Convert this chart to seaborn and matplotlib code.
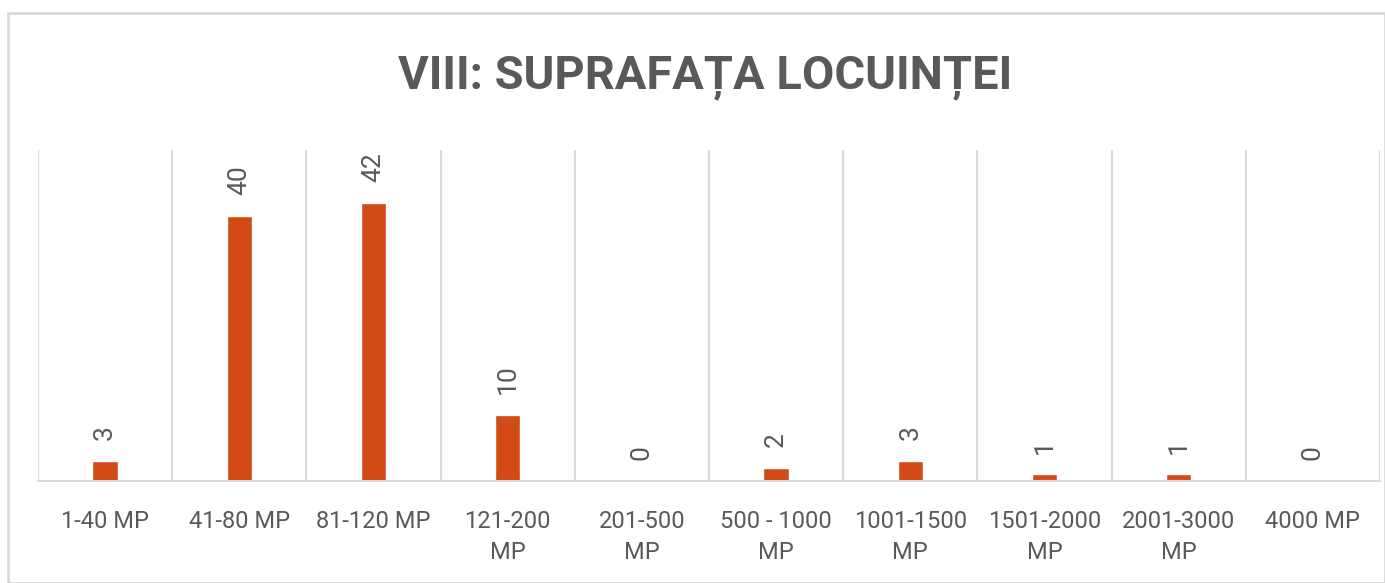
import matplotlib
matplotlib.use("Agg")
import matplotlib.pyplot as plt
from matplotlib.patches import Rectangle
import numpy as np
import pandas as pd
import seaborn as sns

TITLE = "VIII: SUPRAFAȚA LOCUINȚEI"
categories = ["1-40 MP", "41-80 MP", "81-120 MP", "121-200\nMP", "201-500\nMP",
              "500 - 1000\nMP", "1001-1500\nMP", "1501-2000\nMP", "2001-3000\nMP", "4000 MP"]
counts = [3, 40, 42, 10, 0, 2, 3, 1, 1, 0]

BAR_COLOR = "#D24A15"
TEXT_COLOR = "#595959"
GRID_COLOR = "#D9D9D9"

sns.set_style("white")
plt.rcParams['font.family'] = ['Roboto', 'DejaVu Sans']

df = pd.DataFrame({"cat": categories, "n": counts})

fig = plt.figure(figsize=(13.85, 5.83), dpi=100)
ax = fig.add_axes([38 / 1385, (583 - 481) / 583, (1380 - 38) / 1385, (481 - 150) / 583])

sns.barplot(data=df, x="cat", y="n", color=BAR_COLOR, width=0.19, saturation=1, ax=ax)

ax.set_ylim(0, 50)
ax.set_xlim(-0.5, len(categories) - 0.5)
ax.set_yticks([])
ax.set_xlabel("")
ax.set_ylabel("")

# vertical separators between categories
ax.set_xticks(np.arange(-0.5, len(categories), 1), minor=True)
ax.grid(which="minor", axis="x", color=GRID_COLOR, linewidth=1.5)
ax.tick_params(axis="x", which="both", length=0, pad=21, labelsize=17, labelcolor=TEXT_COLOR)
for lbl in ax.get_xticklabels():
    lbl.set_linespacing(1.45)

for side in ["top", "left", "right"]:
    ax.spines[side].set_visible(False)
ax.spines["bottom"].set_color(GRID_COLOR)
ax.spines["bottom"].set_linewidth(1.5)

# rotated value labels above bars
for i, v in enumerate(counts):
    ax.annotate(str(v), (i, v), xytext=(0, 15), textcoords="offset points",
                rotation=90, ha="center", va="bottom", fontsize=19, color=TEXT_COLOR)

title = fig.text(0.509, 0.866, TITLE, ha="center", va="center", fontsize=34,
                 fontweight="bold", color=TEXT_COLOR)
# fit title width to about 615 px like the original
fig.canvas.draw()
w = title.get_window_extent().width
title.set_fontsize(34 * 615 / w)

# light frame around the chart
fig.patches.append(Rectangle((8 / 1385, 0), 1 - 8 / 1385, 1 - 13 / 583,
                             transform=fig.transFigure, fill=False,
                             edgecolor=GRID_COLOR, linewidth=2))

fig.savefig("out.png", dpi=100)
